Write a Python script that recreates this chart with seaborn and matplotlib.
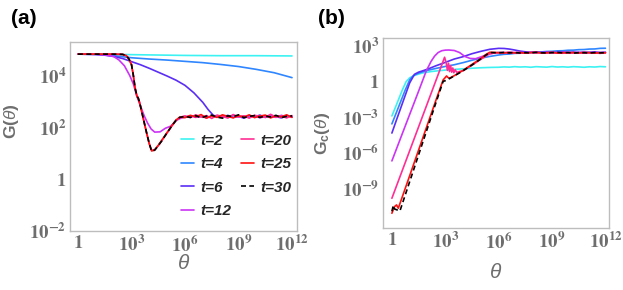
import numpy as np
import pandas as pd
import matplotlib
matplotlib.use("Agg")
import matplotlib.pyplot as plt
import seaborn as sns

# ---------------- data (log10 theta, log10 G) ----------------
labels = ["t=2", "t=4", "t=6", "t=12", "t=20", "t=25", "t=30"]
colors = ["#3DF2F2", "#2F86FF", "#5A2EF5", "#CC33F5", "#FF2D95", "#FF1010", "#000000"]

PX = [6.0, 6.3, 6.6, 6.9, 7.2, 7.5, 7.8, 8.1, 8.4, 8.7, 9.0, 9.3, 9.6,
      9.9, 10.2, 10.5, 10.8, 11.1, 11.4, 11.7, 12.0]

# panel (a): G(theta)
a2_x = [0, 2, 4, 6, 8, 10, 12]
a2_y = [4.85, 4.84, 4.82, 4.80, 4.79, 4.79, 4.78]
a4_x = [0, 1, 1.5, 2, 2.5, 3, 4, 5, 6, 7, 8, 9, 10, 11, 12]
a4_y = [4.85, 4.84, 4.82, 4.79, 4.75, 4.71, 4.66, 4.62, 4.57, 4.52, 4.45, 4.37, 4.26, 4.13, 3.94]
a6_x = [0, 1, 1.5, 2, 2.5, 3, 3.5, 4, 4.5, 5, 5.5, 6, 6.5, 7, 7.3, 7.6]
a6_y = [4.85, 4.84, 4.81, 4.76, 4.68, 4.56, 4.44, 4.30, 4.15, 4.00, 3.84, 3.64, 3.35, 2.98, 2.70, 2.47]
a6_p = [2.44, 2.40, 2.47, 2.42, 2.45, 2.39, 2.46, 2.41, 2.48, 2.40, 2.44, 2.37, 2.46,
        2.42, 2.49, 2.40, 2.45, 2.43, 2.38, 2.47, 2.42]
a12_x = [0, 1, 1.5, 2.0, 2.3, 2.6, 2.9, 3.1, 3.3, 3.5, 3.7, 3.9, 4.1, 4.3, 4.6, 4.9,
         5.2, 5.5, 5.8]
a12_y = [4.85, 4.84, 4.82, 4.76, 4.62, 4.40, 4.02, 3.70, 3.22, 2.85, 2.48, 2.18, 1.95,
         1.83, 1.84, 1.98, 2.06, 2.28, 2.38]
a12_p = [2.41, 2.46, 2.40, 2.44, 2.38, 2.47, 2.42, 2.45, 2.39, 2.48, 2.41, 2.45, 2.40,
         2.47, 2.38, 2.44, 2.46, 2.40, 2.48, 2.42, 2.44]
a20_x = [0, 1, 2, 2.5, 2.7, 2.85, 3.0, 3.1, 3.2, 3.3, 3.38, 3.45, 3.55, 3.7, 3.85, 4.0,
         4.13, 4.3, 4.5, 4.7, 4.9, 5.1, 5.3, 5.5, 5.7]
a20_y = [4.85, 4.85, 4.85, 4.84, 4.80, 4.68, 4.45, 4.05, 3.55, 3.25, 3.15, 3.00, 2.70,
         2.25, 1.80, 1.38, 1.12, 1.15, 1.30, 1.50, 1.70, 1.90, 2.10, 2.28, 2.40]
a20_p = [2.46, 2.39, 2.50, 2.41, 2.47, 2.36, 2.49, 2.43, 2.38, 2.51, 2.42, 2.46, 2.37,
         2.48, 2.44, 2.40, 2.52, 2.41, 2.45, 2.38, 2.47]
a25_x = [0, 1, 2, 2.5, 2.7, 2.85, 3.0, 3.1, 3.2, 3.3, 3.38, 3.45, 3.55, 3.7, 3.85, 4.0,
         4.13, 4.3, 4.5, 4.7, 4.9, 5.1, 5.3, 5.5, 5.7]
a25_y = [4.85, 4.85, 4.85, 4.84, 4.79, 4.66, 4.43, 4.02, 3.52, 3.22, 3.13, 2.97, 2.68,
         2.22, 1.78, 1.36, 1.10, 1.14, 1.32, 1.52, 1.72, 1.92, 2.12, 2.30, 2.41]
a25_p = [2.39, 2.48, 2.42, 2.51, 2.37, 2.46, 2.40, 2.50, 2.44, 2.38, 2.47, 2.41, 2.50,
         2.39, 2.45, 2.49, 2.38, 2.46, 2.42, 2.50, 2.40]
a30_x = [0, 1, 2, 2.5, 2.7, 2.85, 3.0, 3.1, 3.2, 3.3, 3.38, 3.45, 3.55, 3.7, 3.85, 4.0,
         4.13, 4.3, 4.5, 4.7, 4.9, 5.1, 5.3, 5.5, 5.7]
a30_y = [4.85, 4.85, 4.85, 4.84, 4.80, 4.67, 4.44, 4.04, 3.54, 3.24, 3.14, 2.99, 2.69,
         2.24, 1.79, 1.37, 1.09, 1.13, 1.31, 1.49, 1.71, 1.91, 2.11, 2.29, 2.40]
a30_p = [2.44, 2.40, 2.47, 2.38, 2.45, 2.49, 2.41, 2.37, 2.46, 2.43, 2.50, 2.39, 2.44,
         2.47, 2.40, 2.45, 2.42, 2.48, 2.39, 2.44, 2.46]

# panel (b): Gc(theta)
b2_x = [0, 0.2, 0.4, 0.6, 0.8, 1.0, 1.3, 1.7, 2.2, 2.7, 3.2, 3.8, 4.4, 5.0, 5.6]
b2_y = [-2.88, -2.15, -1.40, -0.65, 0.0, 0.32, 0.55, 0.72, 0.85, 0.93, 1.00, 1.06,
        1.12, 1.17, 1.20]
b2_p = [1.21, 1.24, 1.22, 1.26, 1.23, 1.25, 1.21, 1.26, 1.24, 1.22, 1.27, 1.23, 1.25,
        1.22, 1.26, 1.24, 1.21, 1.25, 1.23, 1.27, 1.25]
b4_x = [0, 0.25, 0.5, 0.75, 1.0, 1.2, 1.5, 2.0, 2.5, 3.0, 3.5, 4.0, 4.5, 5.0, 5.5]
b4_y = [-3.55, -2.6, -1.65, -0.7, 0.15, 0.50, 0.72, 0.95, 1.12, 1.28, 1.42, 1.60,
        1.80, 1.98, 2.12]
b4_p = [2.24, 2.30, 2.32, 2.38, 2.39, 2.44, 2.45, 2.49, 2.50, 2.54, 2.55, 2.59, 2.60,
        2.64, 2.65, 2.69, 2.70, 2.74, 2.75, 2.80, 2.81]
b6_x = [0, 0.25, 0.5, 0.75, 1.0, 1.27, 1.5, 1.75, 2.0, 2.5, 3.0, 3.5, 4.0, 4.5, 5.0, 5.5]
b6_y = [-4.32, -3.25, -2.2, -1.15, -0.1, 0.62, 0.80, 0.92, 1.05, 1.35, 1.62, 1.90,
        2.10, 2.35, 2.55, 2.72]
b6_p = [2.80, 2.79, 2.74, 2.66, 2.57, 2.51, 2.47, 2.50, 2.46, 2.49, 2.45, 2.48, 2.50,
        2.46, 2.49, 2.44, 2.48, 2.47, 2.50, 2.45, 2.48]
b12_x = [0, 0.5, 1.0, 1.5, 1.93, 2.2, 2.4, 2.6, 2.8, 3.0, 3.2, 3.5, 3.8, 4.1, 4.4,
         4.7, 5.0, 5.4, 5.8]
b12_y = [-6.66, -4.70, -2.75, -0.80, 0.90, 1.70, 2.15, 2.45, 2.60, 2.65, 2.66, 2.62,
         2.45, 2.12, 1.95, 1.93, 2.08, 2.30, 2.42]
b12_p = [2.45, 2.43, 2.47, 2.44, 2.46, 2.42, 2.45, 2.47, 2.43, 2.46, 2.44, 2.42, 2.46,
         2.45, 2.43, 2.47, 2.44, 2.42, 2.46, 2.43, 2.45]
b20_x = [0, 0.5, 1.0, 1.5, 2.0, 2.5, 2.8, 2.96, 3.05, 3.12, 3.18, 3.24, 3.30, 3.36,
         3.42, 3.48, 3.55, 3.65, 3.8, 4.0, 4.5, 5.0, 5.5, 5.8]
b20_y = [-9.8, -7.8, -5.8, -3.8, -1.8, 0.2, 1.4, 2.05, 1.6, 0.95, 1.55, 0.85, 1.35,
         0.80, 1.15, 0.75, 1.0, 0.78, 0.85, 0.92, 1.38, 1.88, 2.35, 2.42]
b20_p = [2.42, 2.45, 2.41, 2.44, 2.40, 2.43, 2.46, 2.41, 2.44, 2.40, 2.45, 2.42, 2.39,
         2.44, 2.41, 2.43, 2.40, 2.45, 2.42, 2.38, 2.43]
b25_x = [0, 0.15, 0.26, 0.36, 1.0, 1.5, 2.0, 2.5, 2.88, 3.0, 3.07, 3.15, 3.25, 3.5,
         4.0, 4.5, 5.0, 5.3, 5.5]
b25_y = [-11.06, -10.5, -10.36, -10.64, -7.9, -5.75, -3.6, -1.45, 0.15, 0.35, 0.48,
         0.35, 0.30, 0.50, 0.95, 1.45, 1.95, 2.30, 2.47]
b25_p = [2.44, 2.41, 2.46, 2.42, 2.45, 2.40, 2.44, 2.47, 2.41, 2.43, 2.46, 2.40, 2.44,
         2.42, 2.45, 2.41, 2.46, 2.43, 2.40, 2.44, 2.42]
b30_x = [0, 0.08, 0.15, 0.45, 1.0, 1.5, 2.0, 2.5, 2.88, 3.05, 3.5, 4.0, 4.5, 5.0, 5.3, 5.5]
b30_y = [-10.9, -10.4, -10.7, -10.87, -8.4, -6.15, -3.9, -1.65, 0.03, 0.10, 0.48,
         0.92, 1.40, 1.92, 2.25, 2.45]
b30_p = [2.43, 2.46, 2.42, 2.45, 2.41, 2.44, 2.42, 2.46, 2.43, 2.41, 2.44, 2.46, 2.42,
         2.45, 2.40, 2.44, 2.43, 2.41, 2.45, 2.42, 2.44]

xticks_exp = [0, 3, 6, 9, 12]
yticks_a_exp = [-2, 0, 2, 4]
yticks_b_exp = [-9, -6, -3, 0, 3]


def series(hx, hy, plateau=None):
    xs, ys = list(hx), list(hy)
    if plateau is not None:
        for px, py in zip(PX, plateau):
            if px > hx[-1] + 1e-9:
                xs.append(px)
                ys.append(py)
    return pd.DataFrame({"theta": np.power(10.0, xs), "G": np.power(10.0, ys)})


A = [series(a2_x, a2_y), series(a4_x, a4_y), series(a6_x, a6_y, a6_p),
     series(a12_x, a12_y, a12_p), series(a20_x, a20_y, a20_p),
     series(a25_x, a25_y, a25_p), series(a30_x, a30_y, a30_p)]
B = [series(b2_x, b2_y, b2_p), series(b4_x, b4_y, b4_p), series(b6_x, b6_y, b6_p),
     series(b12_x, b12_y, b12_p), series(b20_x, b20_y, b20_p),
     series(b25_x, b25_y, b25_p), series(b30_x, b30_y, b30_p)]

# ---------------- style ----------------
sns.set_theme(style="white")
plt.rcParams["font.family"] = ["Liberation Sans", "DejaVu Sans"]
plt.rcParams["mathtext.fontset"] = "custom"
plt.rcParams["mathtext.bf"] = "Liberation Sans:bold"
plt.rcParams["mathtext.it"] = "Liberation Sans:italic"
plt.rcParams["mathtext.rm"] = "Liberation Sans"

GRAY = "#6E6E6E"
SPINE = "#BDBDBD"

fig = plt.figure(figsize=(6.23, 2.9), dpi=100)
axA = fig.add_axes([70 / 623, 1 - 231 / 290, 227 / 623, 189 / 290])
axB = fig.add_axes([383 / 623, 1 - 228 / 290, 226 / 623, 190 / 290])


def tick_label(e):
    if e == 0:
        return r"$\mathbf{1}$"
    return r"$\mathbf{10^{%d}}$" % e


for ax, data, xlim, ylim, yexp in [
    (axA, A, (-0.45, 12.28), (-2.0, 5.32), yticks_a_exp),
    (axB, B, (-0.5, 12.2), (-12.3, 3.67), yticks_b_exp),
]:
    ax.set_xscale("log")
    ax.set_yscale("log")
    handles = []
    for df, lab, col in zip(data, labels, colors):
        sns.lineplot(data=df, x="theta", y="G", ax=ax, color=col, lw=1.2,
                     estimator=None, sort=False, legend=False)
        line = ax.lines[-1]
        if lab == "t=30":
            line.set_dashes((3, 2))
        handles.append(line)
    ax.set_xlim(10 ** xlim[0], 10 ** xlim[1])
    ax.set_ylim(10 ** ylim[0], 10 ** ylim[1])
    ax.set_xticks([10.0 ** e for e in xticks_exp])
    ax.set_xticklabels([tick_label(e) for e in xticks_exp])
    ax.set_yticks([10.0 ** e for e in yexp])
    ax.set_yticklabels([tick_label(e) for e in yexp])
    ax.minorticks_off()
    ax.tick_params(axis="both", which="major", direction="in", length=3, width=0.8,
                   color=GRAY, labelcolor=GRAY, labelsize=13.5, pad=3)
    for t in ax.get_xticklabels() + ax.get_yticklabels():
        t.set_math_fontfamily("stix")
    for s in ax.spines.values():
        s.set_color(SPINE)
        s.set_linewidth(1.0)
    ax.set_xlabel(r"$\mathit{\theta}$", fontsize=15, color=GRAY)
    ax.set_facecolor("white")
    if ax is axA:
        leg_handles = handles

axA.set_ylabel(r"$\mathbf{G(}\mathit{\theta}\mathbf{)}$", fontsize=12.5, color=GRAY)
axB.set_ylabel(r"$\mathbf{G_{c}(}\mathit{\theta}\mathbf{)}$", fontsize=12.5, color=GRAY)
axA.xaxis.set_label_coords(0.5, -0.12)
axB.xaxis.set_label_coords(0.5, -0.185)
axA.yaxis.set_label_coords(-0.215, 0.58)
axB.yaxis.set_label_coords(-0.225, 0.5)

leg = axA.legend(leg_handles, labels, ncol=2, loc="upper left",
                 bbox_to_anchor=(0.455, 0.555), frameon=False, borderpad=0,
                 handlelength=0.85, handletextpad=0.45, columnspacing=0.6,
                 labelspacing=0.62,
                 prop={"family": "Liberation Sans", "weight": "bold",
                       "style": "italic", "size": 11})

fig.text(24 / 623, 1 - 18 / 290, "(a)", fontsize=15, fontweight="bold",
         ha="center", va="center", color="black")
fig.text(331 / 623, 1 - 18 / 290, "(b)", fontsize=15, fontweight="bold",
         ha="center", va="center", color="black")

fig.savefig("out.png", dpi=100, facecolor="white")
